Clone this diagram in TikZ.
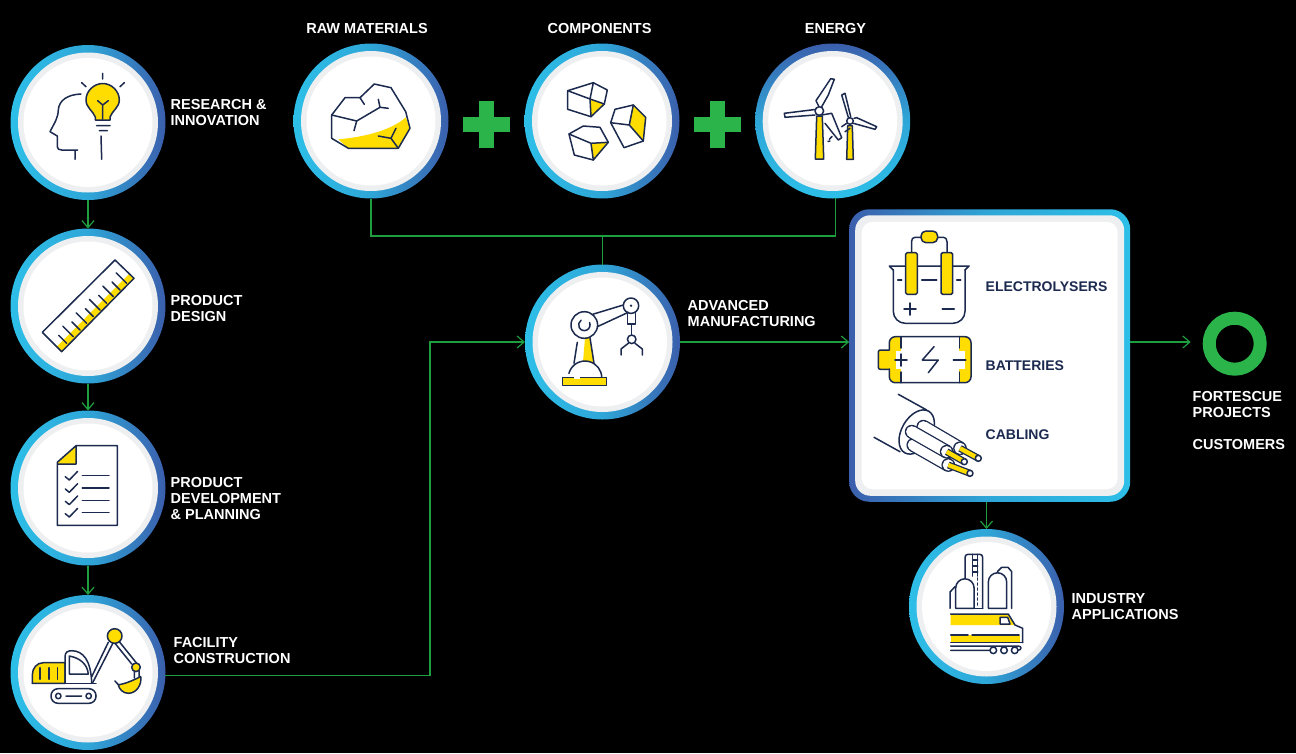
\documentclass[tikz,border=0pt]{standalone}
\usepackage{fontspec}
\setmainfont{Liberation Sans}
\usetikzlibrary{arrows.meta}
\definecolor{ringlight}{HTML}{2DBFE8}
\definecolor{ringmid}{HTML}{2EA6D8}
\definecolor{ringdark}{HTML}{3B5FAC}
\definecolor{softgrey}{HTML}{EEEFF0}
\definecolor{navy}{HTML}{1B2A4E}
\definecolor{sun}{HTML}{FFDD00}
\definecolor{plusgreen}{HTML}{2BB44A}
\definecolor{linegreen}{HTML}{1F9E3F}
\tikzset{
    ringbase/.style={circle, minimum size=155pt, inner sep=0pt, outer sep=0pt,
        path picture={
            \fill[softgrey] (path picture bounding box.center) circle (70);
            \fill[white] (path picture bounding box.center) circle (64.5);
        }},
    ring/.style={ringbase, left color=ringlight, right color=ringdark, middle color=ringmid},
    ringup/.style={ringbase, top color=ringdark, bottom color=ringlight, middle color=ringmid},
    panel/.style={rectangle, rounded corners=#1, inner sep=0pt, outer sep=0pt},
    label/.style={font=\fontsize{14.5}{16}\selectfont\bfseries, text=white, align=left, inner sep=0pt, yshift=-0.7pt},
    boxlabel/.style={label, font=\fontsize{14}{16}\selectfont\bfseries, text=navy, anchor=west},
    link/.style={draw=linegreen, line width=1.2pt},
    linkto/.style={link, -{Straight Barb[length=7pt,width=12pt,line width=1.2pt]}},
    icon/.style={draw=navy, line width=1.5pt, line join=round, line cap=round},
    iconfill/.style={icon, fill=sun},
    tube/.style={line width=#1, line cap=butt},
}
\begin{document}
\begin{tikzpicture}[x=1pt,y=-1pt]
    \useasboundingbox (0,0) rectangle (1296,753);
    \fill[black] (0,0) rectangle (1296,753);

    \node[ring] (research) at (88,122.5) {};
    \node[ring] (design) at (88,306) {};
    \node[ring] (planning) at (88,488) {};
    \node[ring] (facility) at (88,672.5) {};
    \node[ring] (raw) at (371,121) {};
    \node[ring] (parts) at (602,121) {};
    \node[ringup] (energy) at (832.7,121) {};
    \node[ring] (making) at (602.5,342) {};
    \node[ring] (industry) at (986.5,606.5) {};

    \node[panel=20pt, minimum width=281pt, minimum height=292.5pt, left color=ringdark, right color=ringlight, middle color=ringmid] (box) at (989.7,355.5) {};
    \node[panel=15pt, minimum width=269pt, minimum height=280.5pt, fill=softgrey] (boxgrey) at (box.center) {};
    \node[panel=11pt, minimum width=256pt, minimum height=267.5pt, fill=white] (boxwhite) at (box.center) {};

    \node[circle, draw=plusgreen, line width=13pt, minimum size=51pt, inner sep=0pt, outer sep=6.5pt] (goal) at (1234.7,343.7) {};

    \coordinate (join) at (602.5,236);
    \coordinate (turn) at (430,500);

    \draw[linkto] (research) -- (design);
    \draw[linkto] (design) -- (planning);
    \draw[linkto] (planning) -- (facility);
    \draw[linkto] (facility.-2) -| (turn) |- (making.west);
    \draw[link] (raw.south) |- (join) -| (energy.-88);
    \draw[link] (join) -- (making.north);
    \draw[linkto] (making.east) -- (making.east -| box.west);
    \draw[linkto, shorten >=12pt] (making.east -| box.east) -- (making.east -| goal.west);
    \draw[linkto] (industry.north |- box.south) -- (industry.north);

    \foreach \x in {486.5,717.5} {
        \fill[plusgreen] (\x-23.5,117) rectangle (\x+23.5,132);
        \fill[plusgreen] (\x-7.5,101) rectangle (\x+7.5,148);
    }

    \node[label, anchor=west] (researchtext) at (170.5,112) {RESEARCH \&\\INNOVATION};
    \node[label, anchor=west] (designtext) at (170.5,307.5) {PRODUCT\\DESIGN};
    \node[label, anchor=west] (planningtext) at (170.5,498) {PRODUCT\\DEVELOPMENT\\\& PLANNING};
    \node[label, anchor=west] (facilitytext) at (173.5,650) {FACILITY\\CONSTRUCTION};
    \node[label] (rawtext) at (367,27.5) {RAW MATERIALS};
    \node[label] (partstext) at (599.5,27.5) {COMPONENTS};
    \node[label] (energytext) at (835.5,27.5) {ENERGY};
    \node[label, anchor=west] (makingtext) at (687.5,313) {ADVANCED\\MANUFACTURING};
    \node[label, anchor=west] (industrytext) at (1071.5,606) {INDUSTRY\\APPLICATIONS};
    \node[label, anchor=west] (goaltext) at (1192.5,404) {FORTESCUE\\PROJECTS};
    \node[label, anchor=west] (customertext) at (1192.5,444) {CUSTOMERS};
    \node[boxlabel] (electrotext) at (985.5,285.5) {ELECTROLYSERS};
    \node[boxlabel] (batterytext) at (985.5,365) {BATTERIES};
    \node[boxlabel] (cabletext) at (985.5,434) {CABLING};

    % research
    \draw[icon] (81,94) .. controls (68,94.5) and (59,100) .. (58.3,110) .. controls (58,118) and (55,122) .. (50,131.7) -- (57.3,136) -- (57.3,146.7) .. controls (57.3,149) and (59,150) .. (61.7,150) -- (77.7,150) (75,150) -- (75,159.3);
    \draw[iconfill] (95.3,120) -- (95.3,117) .. controls (93,111) and (86,107.5) .. (86,100) .. controls (86,91) and (94,83.5) .. (102.7,83.5) .. controls (111.5,83.5) and (119.3,91) .. (119.3,100) .. controls (119.3,107.5) and (112,111) .. (110,117) -- (110,120) -- cycle;
    \draw[icon] (102.7,119) -- (102.7,105) -- (97.7,100.7) (102.7,105) -- (108.3,100.7);
    \draw[icon] (96.7,125.7) -- (110,125.7) (99.3,130.7) -- (107.3,130.7) (101,136) -- (101.7,159.3);
    \draw[icon] (102.7,73.3) -- (102.7,79) (81.7,82.7) -- (86,86.7) (124.3,82.7) -- (120,86.7);

    % ruler
    \fill[sun] (129.3,273.7) -- (134,278.3) -- (61.7,351.7) -- (56.7,346.7) -- cycle;
    \foreach \i in {0,...,9} {
        \pgfmathsetmacro{\reach}{mod(\i,2)==0 ? 10.5 : 8}
        \draw[icon] ({126.7-6.67*\i},{283.3+6.67*\i}) -- ++(-\reach,-\reach);
    }
    \draw[icon] (115,260) -- (134,278.3) -- (61.7,351.7) -- (42.3,332.3) -- cycle;

    % checklist
    \fill[sun] (57.3,462.3) -- (76,445.7) -- (76,464) -- (57.3,464) -- cycle;
    \draw[icon] (76,445.7) -- (117.3,445.7) -- (117.3,525.3) -- (57.3,525.3) -- (57.3,462.3) -- cycle (76,445.7) -- (76,464) -- (57.3,464);
    \foreach \y in {475.7,488,500.3,512.7} {
        \draw[icon] (82.3,\y) -- (109,\y);
        \draw[icon] (65.3,\y+1) -- (69.3,\y+4.3) -- (77.7,\y-4.4);
    }

    % excavator
    \draw[iconfill] (32.3,683.3) -- (32.3,675) .. controls (32.3,668) and (37,662.7) .. (43.3,662.7) -- (65,662.7) -- (65,683.3) -- cycle;
    \draw[icon] (40,667.7) -- (40,679.3) (49,667.7) -- (49,679.3) (57.3,667.7) -- (57.3,679.3);
    \draw[icon] (65,683.3) -- (65,656.7) .. controls (65,652) and (68,650.7) .. (72,650.7) .. controls (83,651) and (91,660) .. (91.7,683.3);
    \draw[icon] (32.3,683.3) -- (96,683.3);
    \draw[icon] (69.3,656) -- (69.3,674) -- (88.3,674) .. controls (87.3,664) and (80,658) .. (69.3,656) -- cycle;
    \draw[icon, rounded corners=7pt] (51,688.7) rectangle (96,703.3);
    \draw[icon] (58.3,696) circle (2.7) (88.7,696) circle (2.7) (66,696) -- (81.7,696);
    \draw[icon] (91.7,676.7) -- (108.3,642.3) (92.5,683) -- (113,643) (119.3,641.7) -- (136.7,663.3) (115,643.3) -- (131.7,664);
    \draw[iconfill] (118.3,684.7) .. controls (125,684) and (134,680) .. (140.7,676.5) .. controls (142,684) and (137,693.3) .. (128.3,693.3) .. controls (123,693.3) and (119,689) .. (118.3,684.7) -- cycle;
    \draw[icon] (115,681) -- (118.3,684.7) (134.3,671) -- (134.3,678) (139,671) -- (139,676.5);
    \draw[iconfill] (136,667.3) circle (4.3);
    \draw[iconfill] (114.7,636) circle (7.3);

    % rock
    \fill[sun] (338.3,139.3) .. controls (365,137) and (392,130) .. (405.7,117.3) -- (410,128.3) -- (398.3,148.3) -- (348.3,148.3) -- cycle;
    \draw[icon] (331.7,115) -- (345,97.7) -- (360,97.7) -- (374.3,84) -- (391,87.7) -- (405.7,111.7) -- (410,128.3) -- (398.3,148.3) -- (348.3,148.3) -- (331.7,138.3) -- cycle;
    \draw[icon] (331.7,115) -- (356.7,121) -- (380,107.3) -- (388.3,108.3) (380,107.3) -- (378.3,99.3) (356.7,121) -- (354,130.7) (360,97.7) -- (364.3,104.3);
    \draw[icon] (378.3,136) -- (391,138.3) -- (398.3,148.3) (391,138.3) -- (396,128.3);

    % components
    \fill[sun] (590,99) -- (604.3,104) -- (591,116.7) -- cycle;
    \draw[icon] (567.7,90.7) -- (593.3,82.7) -- (607.3,90) -- (604.3,104) -- (591,116.7) -- (567.7,109.3) -- cycle;
    \draw[icon] (567.7,90.7) -- (590,99) -- (593.3,82.7) (590,99) -- (604.3,104) (590,99) -- (591,116.7);
    \fill[sun] (629.3,125) -- (633.3,105) -- (645.7,117.3) -- (643.3,141) -- cycle;
    \draw[icon] (610.7,122.7) -- (615,109.3) -- (633.3,105) -- (645.7,117.3) -- (643.3,141) -- (624,147.7) -- cycle;
    \draw[icon] (610.7,122.7) -- (629.3,125) -- (633.3,105) (629.3,125) -- (643.3,141);
    \fill[sun] (591,143.3) -- (608.3,142.3) -- (593.3,160) -- cycle;
    \draw[icon] (569,134) -- (583.3,126) -- (600,127.3) -- (608.3,142.3) -- (593.3,160) -- (574.3,155) -- cycle;
    \draw[icon] (569,134) -- (591,143.3) -- (608.3,142.3) (591,143.3) -- (593.3,160);

    % wind turbines
    \draw[iconfill] (816.7,116) -- (822.3,116) -- (823.7,159) -- (815.3,159) -- cycle;
    \draw[icon] (819,106.7) -- (816,100.7) -- (830.7,78.7) -- (834.3,79.3) -- (828.3,95) -- (821.7,106.7);
    \draw[icon] (815,109.5) -- (784.3,113.3) -- (785,117.3) -- (815,115);
    \draw[icon] (821.7,115) -- (831.7,113.3) -- (841.7,137.7) -- (838.3,140) -- (825,123.3);
    \draw[icon, fill=white] (819.3,111) circle (4.3);
    \draw[icon] (829.3,139.3) -- (832,136.5) (828,141.5) -- (830,141);
    \draw[iconfill] (847.7,125.7) -- (852.3,125.7) -- (853.3,159.3) -- (846.7,159.3) -- cycle;
    \draw[icon] (848.3,117.3) -- (841.7,95) -- (845,93.3) -- (850.7,116.7);
    \draw[icon] (854,118.3) -- (856.7,117.7) -- (876.7,126.7) -- (875,129.3) -- (853.3,123.3);
    \draw[icon, fill=white] (850,121) circle (3.3);
    \draw[icon] (846.7,123.3) -- (841.7,126.7) (850,128.3) -- (845,131.7);

    % robot arm
    \fill[sun] (585,337.7) -- (590,337.7) -- (594,363.3) -- (583,362) -- cycle;
    \draw[icon] (577.3,342.3) -- (574,363.3) (590,337.7) -- (594,363.3);
    \fill[white] (568.3,377.7) arc (180:360:16.7) -- cycle;
    \draw[icon] (568.9,373.4) arc (195:360:16.7);
    \draw[iconfill] (562.7,377.7) rectangle (606.7,385.7);
    \draw[white, line width=1.7pt] (574,377.7) -- (580,377.7);
    \draw[icon] (592.7,314.3) -- (623.3,305) (597.3,326.7) -- (628.3,312.3);
    \draw[icon] (584.3,325) circle (13.3);
    \draw[icon] (589.5,322.5) arc (-25:235:5.7);
    \draw[icon] (631,305.7) circle (7.7);
    \fill[navy] (631,305.7) circle (1.3);
    \draw[icon] (627.7,312.3) -- (627.7,324) -- (635.7,324) -- (635.7,312.3);
    \draw[icon] (631.7,324) -- (631.7,335);
    \draw[icon] (631.7,339.3) circle (4.3);
    \draw[icon] (621,355) -- (621,349) -- (628.3,343.3) (642.3,355) -- (642.3,349) -- (635,343.3);

    % electrolyser
    \draw[icon] (911.5,252.7) -- (911.5,241.7) .. controls (911.5,239) and (913,237.3) .. (915,237.3) -- (921,237.3) (947,252.7) -- (947,241.7) .. controls (947,239) and (945.5,237.3) .. (943.5,237.3) -- (937.7,237.3);
    \draw[iconfill, rounded corners=5pt] (921,231) rectangle (937.7,242.7);
    \draw[icon] (889.3,266) -- (969,266) (889.3,266) -- (893.3,270) (969,266) -- (965,270);
    \draw[icon, rounded corners=12pt] (893.3,270) -- (893.3,323.3) -- (965,323.3) -- (965,270);
    \draw[iconfill, rounded corners=1.5pt] (905.7,252.7) rectangle (917.3,294.3);
    \draw[iconfill, rounded corners=1.5pt] (941,252.7) rectangle (952.7,294.3);
    \draw[icon] (897.7,280) -- (901.7,280) (921.7,280) -- (936.7,280) (956.7,280) -- (960.7,280);
    \draw[icon] (904,309) -- (916,309) (910,303) -- (910,315) (942.3,309) -- (954.3,309);

    % battery
    \draw[iconfill, rounded corners=2pt] (878.3,350) rectangle (892,369.3);
    \fill[sun, rounded corners=6pt] (889.3,336.7) rectangle (905,382.7);
    \fill[white] (901,336) rectangle (906,383);
    \fill[sun, rounded corners=6pt] (955,336.7) rectangle (971,382.7);
    \fill[white] (954,336) rectangle (959.3,383);
    \draw[icon, rounded corners=6pt] (889.3,350) -- (889.3,336.7) -- (971,336.7) -- (971,382.7) -- (889.3,382.7) -- (889.3,369);
    \fill[white] (896,351) rectangle (906,369);
    \fill[white] (955,351) rectangle (965,369);
    \draw[icon] (901,336.7) -- (901,348) (901,372) -- (901,382.7) (959.3,336.7) -- (959.3,348) (959.3,372) -- (959.3,382.7);
    \draw[icon] (895,360) -- (907,360) (901,354) -- (901,366) (953.3,360) -- (965.7,360);
    \draw[icon] (934,346.7) -- (922.3,360) -- (938.3,360) -- (928.3,372.7);

    % cable
    \draw[icon] (898.3,394.3) -- (926.7,410) (874,437.3) -- (900,451.7);
    \draw[icon, fill=white, rotate around={-30:(916.7,432)}] (916.7,432) ellipse (15 and 24);
    \foreach \sx/\sy/\ex/\ey/\fx/\fy in {923.3/426.7/960/448.3/978.3/458.3, 913.3/445/948.3/465/970/473.3, 911.7/431.7/946.7/451.7/964.3/461.7} {
        \fill[navy] (\sx,\sy) circle (6.9);
        \draw[navy, tube=13.8pt] (\sx,\sy) -- (\ex,\ey);
        \fill[white] (\sx,\sy) circle (5.6);
        \draw[white, tube=11.2pt] (\sx,\sy) -- (\ex,\ey);
        \fill[navy] (\ex,\ey) circle (6.9);
        \fill[white] (\ex,\ey) circle (5.6);
        \draw[navy, tube=7pt] (\ex,\ey) -- (\fx,\fy);
        \draw[sun, tube=4.4pt] (\ex,\ey) -- (\fx,\fy);
        \draw[icon, fill=white] (\fx,\fy) circle (3);
    }

    % plant and train
    \draw[icon, rounded corners=3pt] (965,608.3) -- (965,554.3) -- (982.7,554.3) -- (982.7,608.3);
    \draw[icon] (965,608.3) -- (982.7,608.3) (972.7,554.3) -- (972.7,576) (977.7,554.3) -- (977.7,576);
    \foreach \y in {560,566,572} {
        \draw[icon] (972.7,\y) -- (977.7,\y);
    }
    \draw[icon, dash pattern=on 2pt off 3pt] (977.7,578) -- (977.7,607);
    \draw[icon, fill=white] (950,608.3) -- (950,592) -- (955,586.7);
    \draw[icon, fill=white] (955.7,608.3) -- (955.7,588) arc (180:360:9.2) -- (974,608.3) -- cycle;
    \draw[icon] (997.3,571.7) -- (1001.7,567.3) -- (1008,567.3) -- (1011.7,571.7) -- (1011.7,608.3);
    \draw[icon, fill=white] (988.3,608.3) -- (988.3,582) arc (180:360:9.2) -- (1006.7,608.3) -- cycle;
    \fill[sun] (950.7,614) -- (1008.3,614) -- (1015,625) -- (950.7,625) -- cycle;
    \draw[icon] (950.7,614) -- (1008.3,614) -- (1015,625) -- (1022.7,628.3) -- (1022.7,642.7);
    \draw[icon, fill=white] (1000,617.3) -- (1007.7,617.3) -- (1010,624) -- (1000,624) -- cycle;
    \fill[sun] (950.7,635) rectangle (1020,642.7);
    \draw[icon] (950.7,635) -- (968,635) (972,635) -- (1019,635) (950.7,642.7) -- (1022.7,642.7);
    \draw[icon] (950.7,646) -- (1018,646) .. controls (1022,646) and (1022,650) .. (1018,650.3) (950.7,650.3) -- (990,650.3);
    \draw[icon, fill=white] (993.3,650.3) circle (3.3) (1004,650.3) circle (3.3) (1014.7,650.3) circle (3.3);
\end{tikzpicture}
\end{document}
